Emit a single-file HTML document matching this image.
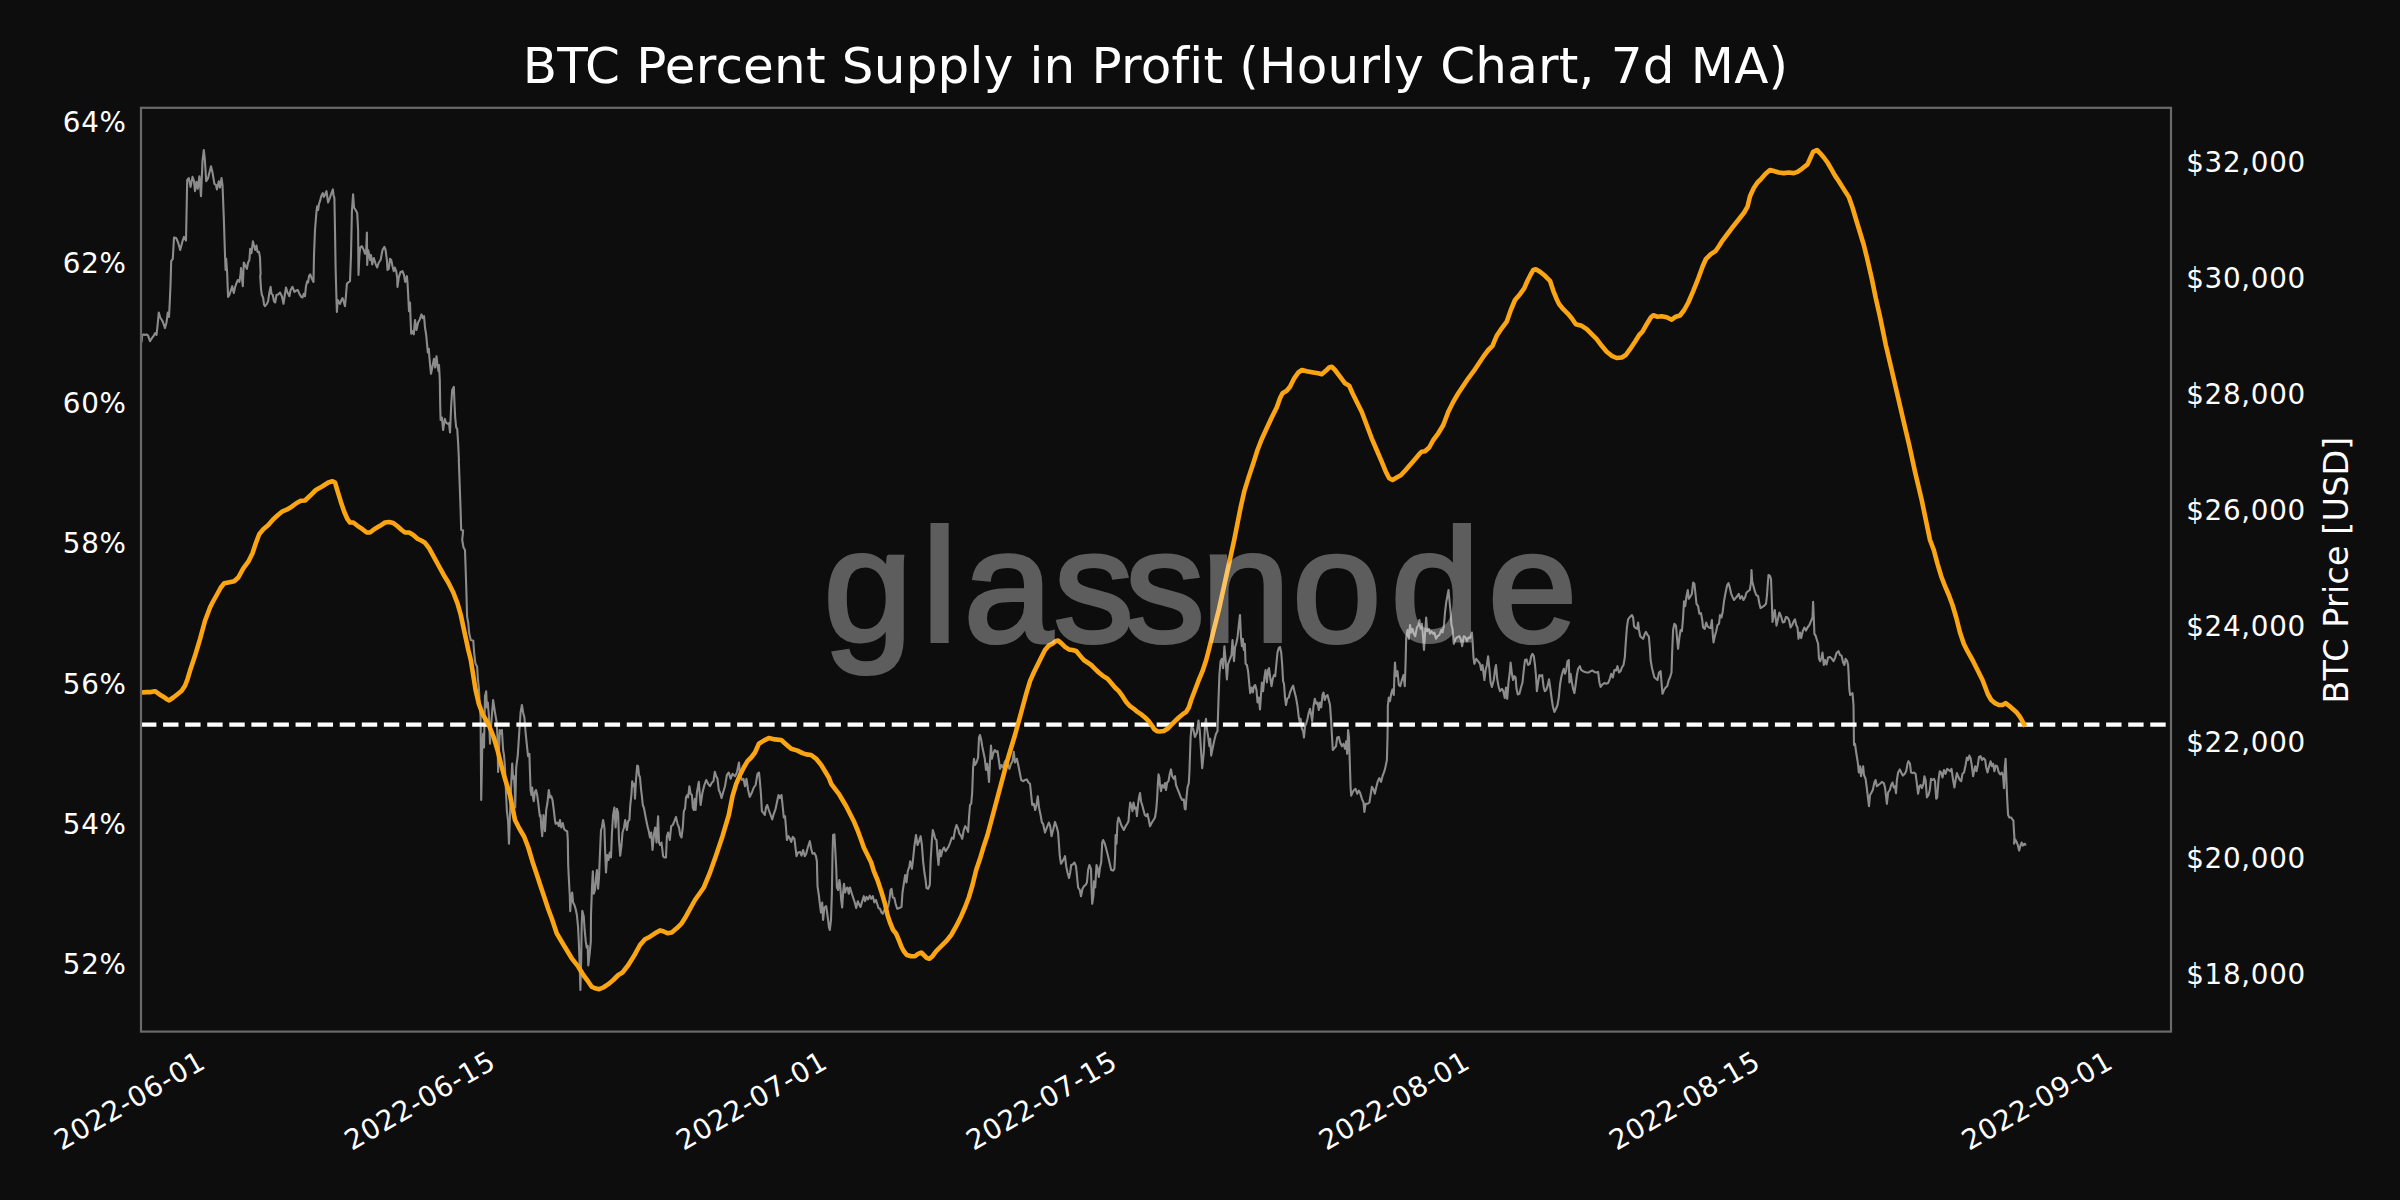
<!DOCTYPE html>
<html><head><meta charset="utf-8"><title>BTC Percent Supply in Profit</title>
<style>
html,body{margin:0;padding:0;background:#0d0d0d;}
svg{display:block}
text{font-family:"DejaVu Sans","Liberation Sans",sans-serif;fill:#fff;font-variant-ligatures:none;font-feature-settings:"liga" 0,"clig" 0}
.t{font-size:27.78px;letter-spacing:0.7px}
</style></head><body>
<svg width="2400" height="1200" viewBox="0 0 2400 1200">
<rect width="2400" height="1200" fill="#0d0d0d"/>
<text x="1155.5" y="83.4" text-anchor="middle" font-size="50" letter-spacing="0.2">BTC Percent Supply in Profit (Hourly Chart, 7d MA)</text>

<text class="t" x="126.6" y="132.3" text-anchor="end">64%</text>
<text class="t" x="126.6" y="272.6" text-anchor="end">62%</text>
<text class="t" x="126.6" y="412.9" text-anchor="end">60%</text>
<text class="t" x="126.6" y="553.2" text-anchor="end">58%</text>
<text class="t" x="126.6" y="693.5" text-anchor="end">56%</text>
<text class="t" x="126.6" y="833.8" text-anchor="end">54%</text>
<text class="t" x="126.6" y="974.1" text-anchor="end">52%</text>
<text class="t" x="2186.2" y="172.3">$32,000</text>
<text class="t" x="2186.2" y="288.3">$30,000</text>
<text class="t" x="2186.2" y="404.3">$28,000</text>
<text class="t" x="2186.2" y="520.3">$26,000</text>
<text class="t" x="2186.2" y="636.3">$24,000</text>
<text class="t" x="2186.2" y="752.3">$22,000</text>
<text class="t" x="2186.2" y="868.3">$20,000</text>
<text class="t" x="2186.2" y="984.3">$18,000</text>
<text class="t" text-anchor="end" transform="translate(207.3,1066.8) rotate(-30)">2022-06-01</text>
<text class="t" text-anchor="end" transform="translate(497.6,1066.8) rotate(-30)">2022-06-15</text>
<text class="t" text-anchor="end" transform="translate(829.3,1066.8) rotate(-30)">2022-07-01</text>
<text class="t" text-anchor="end" transform="translate(1119.3,1066.8) rotate(-30)">2022-07-15</text>
<text class="t" text-anchor="end" transform="translate(1472.0,1066.8) rotate(-30)">2022-08-01</text>
<text class="t" text-anchor="end" transform="translate(1762.3,1066.8) rotate(-30)">2022-08-15</text>
<text class="t" text-anchor="end" transform="translate(2114.8,1066.8) rotate(-30)">2022-09-01</text>
<text font-size="33.3" letter-spacing="0.2" text-anchor="middle" transform="translate(2348,570) rotate(-90)">BTC Price [USD]</text>
<path d="M141.5,342.5 L142.2,335.0 L143.8,334.4 L145.0,335.0 L146.5,334.4 L148.1,335.6 L150.0,341.2 L151.9,338.1 L153.8,335.6 L155.2,333.1 L156.5,335.0 L157.5,326.2 L158.8,312.5 L160.2,317.5 L161.9,320.0 L163.1,322.5 L165.0,328.1 L166.5,322.5 L167.8,312.5 L169.0,316.9 L169.8,301.2 L170.6,282.5 L171.2,261.2 L172.8,258.8 L174.0,237.5 L176.2,238.1 L178.1,242.5 L180.2,250.0 L182.5,241.2 L184.0,236.9 L186.0,240.6 L187.2,180.0 L188.8,178.1 L190.6,186.9 L192.5,176.9 L194.0,181.2 L195.0,191.2 L196.5,181.9 L197.8,188.8 L199.4,176.2 L201.0,196.2 L202.5,161.2 L203.8,150.0 L204.8,158.8 L206.2,181.2 L208.1,178.1 L211.0,166.2 L212.5,172.5 L214.4,183.8 L216.0,185.0 L216.9,189.4 L218.8,181.2 L220.0,187.5 L221.5,178.1 L222.5,185.0 L223.8,217.5 L225.0,255.0 L225.6,270.0 L226.2,258.8 L227.2,273.8 L227.5,282.5 L228.1,296.9 L229.4,295.0 L230.6,291.2 L232.2,286.2 L233.8,293.1 L235.0,287.5 L236.2,283.8 L237.8,280.0 L239.4,281.9 L240.6,273.8 L241.0,268.1 L241.9,277.5 L242.8,286.2 L243.8,262.5 L245.6,266.2 L246.9,268.8 L248.1,262.5 L249.4,260.0 L250.2,248.8 L251.5,253.1 L252.9,241.2 L254.4,246.9 L255.2,250.0 L256.5,245.6 L257.5,251.9 L259.0,251.9 L260.0,257.5 L260.6,273.8 L260.2,276.2 L261.0,288.8 L261.9,295.0 L263.1,297.5 L264.0,304.4 L265.0,306.2 L266.9,303.8 L268.1,301.2 L269.4,292.5 L270.6,286.9 L271.5,293.8 L272.8,295.0 L274.0,301.2 L275.2,302.5 L276.5,295.0 L278.1,294.4 L280.0,292.5 L281.9,296.2 L283.5,303.8 L284.8,295.0 L286.0,287.5 L287.5,292.5 L289.4,296.2 L290.6,290.0 L292.5,286.9 L294.4,291.9 L296.2,290.6 L297.8,290.0 L299.4,293.8 L301.2,296.9 L302.5,297.5 L303.8,293.8 L305.0,296.2 L306.0,286.2 L307.2,281.2 L308.1,282.5 L309.0,276.2 L310.2,274.4 L311.9,278.8 L313.5,281.9 L314.0,255.0 L315.0,230.0 L316.5,211.2 L317.2,206.2 L318.1,210.0 L319.0,203.8 L320.0,201.2 L321.2,196.2 L322.8,193.1 L323.8,196.9 L325.0,195.0 L326.5,191.2 L328.1,202.5 L330.0,197.5 L331.2,193.8 L332.9,189.4 L333.5,195.0 L334.4,198.1 L335.0,230.0 L335.6,267.5 L336.0,282.5 L336.5,300.0 L336.9,311.9 L337.8,300.0 L339.0,302.5 L340.0,303.8 L341.2,300.6 L342.5,298.1 L343.8,301.9 L345.0,306.2 L346.0,295.0 L346.9,283.8 L348.8,281.9 L350.0,281.2 L351.0,255.0 L351.9,211.2 L353.1,194.4 L354.0,207.5 L355.6,210.0 L357.2,213.1 L358.1,230.0 L358.5,273.8 L358.5,275.0 L359.4,255.0 L360.2,247.5 L361.9,246.2 L363.8,250.0 L365.0,253.8 L366.2,250.6 L366.9,232.5 L367.2,265.0 L368.1,250.0 L369.4,255.0 L370.2,260.0 L371.0,255.0 L372.2,264.4 L373.8,258.1 L375.6,263.8 L377.2,267.5 L378.8,262.5 L380.6,260.0 L382.5,250.0 L384.4,246.9 L385.6,250.0 L386.9,260.0 L387.5,270.0 L388.8,268.8 L390.0,258.8 L391.2,260.0 L392.5,266.2 L393.8,271.2 L394.8,267.5 L396.2,271.2 L397.2,277.5 L397.5,286.9 L398.8,277.5 L400.6,271.9 L402.5,271.2 L404.0,275.0 L405.2,281.9 L406.9,276.2 L407.5,282.5 L408.5,301.2 L409.0,311.2 L410.0,302.5 L410.6,320.0 L411.2,333.8 L412.5,331.2 L413.8,334.4 L415.0,320.0 L416.5,330.0 L418.1,322.5 L419.8,319.4 L421.5,314.4 L422.8,318.1 L424.0,316.2 L425.0,327.5 L426.2,335.0 L427.5,348.8 L427.8,352.5 L428.8,348.8 L429.4,357.5 L431.0,373.8 L432.5,366.2 L434.0,358.8 L435.2,367.5 L436.5,356.2 L437.5,365.0 L438.5,371.2 L439.0,365.0 L439.8,380.0 L440.2,405.0 L440.6,420.0 L441.9,417.5 L443.1,430.0 L444.8,418.8 L446.0,422.5 L447.5,423.8 L449.0,423.1 L450.0,432.5 L451.2,405.0 L452.2,390.0 L453.8,386.9 L454.4,401.2 L455.2,417.5 L456.2,427.5 L457.2,428.8 L458.1,442.5 L459.0,461.2 L458.8,460.0 L460.6,510.0 L461.2,530.0 L463.1,530.6 L462.2,540.0 L463.5,547.5 L465.0,550.0 L466.2,585.0 L466.9,610.0 L467.1,616.7 L468.3,623.3 L469.2,633.3 L470.8,640.0 L473.3,640.8 L474.2,653.3 L475.4,663.3 L477.1,666.7 L477.9,679.2 L478.8,687.5 L479.8,705.0 L480.6,717.5 L481.2,800.0 L482.2,750.0 L483.1,733.8 L484.0,747.5 L485.0,696.2 L486.2,691.2 L486.9,707.5 L487.8,702.5 L489.0,717.5 L490.0,743.8 L491.2,723.8 L493.1,700.0 L495.0,712.5 L496.5,721.2 L497.5,736.2 L498.1,771.9 L499.8,730.0 L500.6,733.8 L501.9,730.0 L503.1,750.0 L504.0,755.0 L505.0,767.5 L506.0,792.5 L506.9,811.2 L508.1,821.2 L509.0,843.8 L510.2,808.8 L511.2,783.8 L512.2,763.5 L513.1,778.8 L514.0,776.2 L514.8,790.0 L515.2,807.5 L516.2,767.5 L517.8,755.0 L519.4,730.0 L520.6,712.5 L521.9,705.0 L523.1,712.5 L524.4,717.5 L525.6,732.5 L527.5,751.2 L528.1,756.2 L529.4,753.8 L529.8,767.5 L530.6,790.0 L531.5,795.0 L532.2,787.5 L533.1,797.5 L533.8,801.2 L534.8,792.5 L536.0,790.0 L537.2,795.0 L538.5,805.0 L539.8,816.2 L540.6,815.0 L541.2,826.2 L542.2,836.2 L543.5,815.0 L545.0,831.2 L546.2,810.0 L547.5,802.5 L548.8,790.0 L550.0,797.5 L551.2,796.2 L552.5,800.0 L553.8,810.0 L554.8,818.8 L555.6,823.8 L557.5,822.5 L558.8,826.2 L560.0,820.0 L561.2,827.5 L562.8,823.1 L564.0,828.8 L565.6,830.6 L567.2,831.2 L567.8,840.0 L568.2,865.0 L568.8,877.5 L569.8,896.2 L570.2,911.2 L571.2,896.2 L572.2,892.5 L573.1,902.5 L574.4,905.0 L575.6,908.8 L576.9,915.0 L578.1,927.5 L578.8,941.7 L579.6,962.5 L580.4,990.0 L581.2,958.3 L581.7,925.0 L582.3,910.8 L583.8,916.7 L584.6,929.2 L585.8,941.7 L586.7,947.5 L587.7,945.8 L587.9,954.2 L588.3,965.4 L589.6,954.2 L590.8,941.7 L591.0,915.0 L591.9,890.0 L592.8,871.2 L593.8,893.8 L595.0,890.0 L596.2,876.2 L596.9,870.0 L598.1,888.8 L599.0,877.5 L600.0,852.5 L601.0,830.0 L601.9,827.5 L603.1,820.0 L604.4,827.5 L605.2,852.5 L606.0,872.5 L607.2,855.0 L608.5,860.0 L609.8,852.5 L611.0,857.5 L611.9,833.8 L613.1,815.0 L614.4,807.5 L615.6,827.5 L616.9,808.8 L618.1,812.5 L619.0,840.0 L620.2,855.6 L621.5,845.0 L622.5,832.5 L624.0,827.5 L625.2,820.0 L626.9,830.0 L628.1,821.2 L629.4,820.0 L630.2,806.2 L631.5,793.8 L632.2,781.2 L633.5,786.2 L634.4,783.8 L635.0,798.8 L636.0,780.0 L637.2,765.6 L638.1,766.2 L639.0,775.0 L640.0,777.5 L641.0,788.8 L641.9,796.2 L642.8,805.0 L644.0,808.1 L645.0,813.8 L646.2,820.0 L647.5,826.2 L648.8,831.2 L650.0,837.5 L651.2,832.5 L652.5,850.0 L654.0,833.8 L655.2,827.5 L656.5,842.5 L658.1,816.2 L659.0,842.5 L660.2,845.0 L661.5,842.5 L663.1,856.2 L664.4,857.5 L666.0,857.5 L666.9,836.2 L668.1,832.5 L669.8,840.0 L671.2,826.2 L672.8,825.0 L674.4,821.2 L676.0,816.9 L677.5,823.8 L679.0,827.5 L680.2,835.0 L681.5,837.5 L682.8,827.5 L683.8,811.2 L685.0,808.8 L686.0,797.5 L687.2,795.0 L688.1,797.5 L689.4,786.2 L690.6,793.8 L691.9,795.0 L692.8,807.5 L693.8,810.0 L694.8,798.8 L695.6,810.0 L696.9,792.5 L698.8,781.9 L700.6,805.0 L702.5,792.5 L704.4,785.0 L706.2,780.0 L708.1,783.8 L710.0,786.2 L711.9,782.5 L713.5,781.2 L714.8,771.9 L716.2,776.2 L717.5,778.8 L718.8,790.0 L720.0,792.5 L721.5,798.1 L723.1,792.5 L725.0,786.2 L726.9,775.0 L728.8,772.5 L730.6,778.8 L732.5,773.8 L735.0,776.2 L736.9,772.5 L739.0,762.5 L740.0,775.0 L741.9,780.0 L743.5,778.8 L745.0,786.2 L746.5,778.8 L748.1,790.0 L749.8,796.9 L751.9,792.5 L753.8,787.5 L755.6,785.0 L757.5,773.8 L759.0,772.5 L759.8,780.0 L761.0,795.0 L761.9,811.2 L763.1,812.5 L764.8,815.0 L766.0,807.5 L767.2,805.0 L768.8,810.0 L770.6,815.0 L772.2,819.4 L773.8,813.8 L775.6,808.8 L776.9,802.5 L778.5,795.0 L780.0,798.1 L781.5,795.0 L782.8,807.5 L783.8,817.5 L785.0,816.2 L786.0,827.5 L786.9,840.0 L788.5,836.2 L790.0,838.8 L791.2,841.9 L792.8,836.9 L794.4,838.8 L795.2,845.0 L796.5,856.2 L798.1,852.5 L800.0,851.9 L801.5,855.6 L803.1,850.0 L804.8,856.2 L806.2,853.8 L807.8,847.5 L809.8,841.2 L811.2,848.8 L812.5,853.8 L814.4,853.1 L816.0,856.2 L816.9,861.2 L817.5,886.2 L818.8,895.0 L820.0,905.0 L821.0,912.5 L822.2,902.5 L823.1,920.0 L824.4,907.5 L826.2,906.2 L827.8,917.5 L829.0,927.5 L829.8,930.0 L831.0,920.0 L831.9,892.5 L832.5,855.0 L833.1,835.0 L834.4,834.4 L835.2,848.8 L836.2,867.5 L836.9,887.5 L838.1,890.0 L839.4,880.0 L840.2,885.0 L841.2,900.0 L842.2,907.5 L843.1,892.5 L844.0,883.8 L845.2,892.5 L846.2,888.8 L847.5,887.5 L848.8,893.8 L850.0,887.5 L851.5,892.5 L853.1,897.5 L854.8,902.5 L856.2,908.1 L857.8,901.2 L859.4,905.0 L860.6,906.9 L862.2,901.2 L863.8,896.2 L865.0,901.2 L866.5,896.9 L868.1,899.4 L869.8,895.6 L871.2,898.8 L872.8,896.2 L874.4,902.5 L876.0,900.0 L877.2,903.8 L878.5,908.1 L880.0,908.8 L881.5,912.5 L882.8,913.8 L884.4,910.0 L886.2,908.8 L888.1,906.9 L889.4,900.0 L890.6,890.0 L891.5,888.8 L892.8,897.5 L894.4,898.1 L895.6,903.8 L897.2,908.8 L899.4,908.1 L901.5,906.9 L902.5,892.5 L904.0,882.5 L905.2,875.0 L906.5,882.5 L907.8,871.2 L909.4,866.2 L910.2,861.2 L911.9,868.8 L913.1,858.8 L914.4,846.2 L916.0,835.0 L917.5,845.0 L918.8,841.9 L920.6,836.2 L921.9,845.0 L923.1,861.2 L924.4,872.5 L925.6,880.0 L926.5,888.1 L928.1,888.8 L929.8,885.0 L930.6,861.2 L931.9,840.0 L932.8,830.0 L934.0,833.8 L935.2,838.8 L936.5,840.0 L937.5,855.0 L938.5,865.0 L939.8,850.0 L941.0,856.2 L942.5,850.0 L944.0,847.5 L945.6,851.2 L947.2,848.8 L948.8,846.2 L950.2,842.5 L951.9,837.5 L953.5,838.8 L955.0,830.0 L956.5,825.0 L958.1,828.8 L959.4,833.8 L961.0,835.6 L962.2,838.8 L963.8,830.0 L965.2,826.2 L966.9,828.8 L968.1,831.9 L969.0,817.5 L970.0,805.0 L971.2,803.8 L972.2,792.5 L973.1,767.5 L974.0,758.8 L975.0,765.0 L976.5,762.5 L978.1,757.5 L979.0,737.5 L980.0,735.0 L981.2,740.0 L982.2,746.2 L983.5,752.5 L984.8,758.8 L986.0,770.0 L987.2,763.8 L988.1,771.2 L989.0,781.9 L990.0,761.2 L991.0,745.6 L991.9,758.8 L993.1,753.8 L994.8,750.0 L996.2,751.9 L997.5,751.2 L998.8,760.0 L1000.0,768.8 L1001.5,765.0 L1003.1,767.5 L1005.0,761.2 L1006.5,760.0 L1008.1,765.0 L1009.4,768.8 L1011.0,763.8 L1012.5,761.2 L1013.8,751.9 L1015.0,762.5 L1016.9,758.8 L1018.5,766.2 L1020.0,773.8 L1021.2,780.0 L1023.1,781.2 L1025.0,780.0 L1026.9,779.4 L1028.5,782.5 L1030.0,783.8 L1031.2,795.0 L1032.2,805.0 L1033.8,803.8 L1035.2,810.0 L1036.5,805.0 L1037.8,796.2 L1039.0,807.5 L1040.6,815.0 L1041.9,822.5 L1043.1,823.8 L1045.0,832.5 L1046.9,827.5 L1048.8,822.5 L1050.2,826.2 L1051.5,836.2 L1053.1,830.0 L1055.0,821.9 L1056.9,827.5 L1058.1,832.5 L1059.0,845.0 L1059.8,856.2 L1061.0,863.8 L1062.5,861.2 L1064.0,858.8 L1065.0,856.2 L1066.2,866.2 L1067.5,872.5 L1069.0,878.1 L1070.2,872.5 L1071.2,865.0 L1072.8,864.4 L1074.4,862.5 L1076.0,866.2 L1076.9,875.0 L1078.1,887.5 L1079.8,890.0 L1081.0,896.2 L1082.5,888.8 L1084.0,886.2 L1085.6,885.0 L1086.9,882.5 L1088.1,870.0 L1089.4,865.0 L1091.0,868.8 L1091.5,887.5 L1092.2,903.8 L1093.5,895.0 L1094.0,881.2 L1095.2,887.5 L1096.5,865.0 L1097.8,868.8 L1098.8,876.9 L1100.0,867.5 L1101.2,862.5 L1102.2,842.5 L1103.1,840.0 L1104.8,843.8 L1106.2,848.8 L1108.1,856.2 L1109.8,863.8 L1111.2,870.0 L1113.1,870.6 L1114.4,868.8 L1115.2,853.8 L1115.6,835.0 L1116.5,843.8 L1117.5,822.5 L1118.5,817.5 L1120.0,821.2 L1121.2,825.0 L1122.5,827.5 L1123.8,830.0 L1125.6,826.2 L1127.2,823.8 L1128.5,821.2 L1129.4,810.0 L1130.2,802.5 L1131.5,806.2 L1132.5,811.2 L1133.5,802.5 L1134.8,808.8 L1136.0,807.5 L1136.9,816.2 L1138.1,803.8 L1139.0,797.5 L1140.0,793.1 L1141.0,801.2 L1142.2,805.0 L1143.5,810.0 L1144.8,815.0 L1146.2,816.2 L1147.5,813.8 L1148.8,820.0 L1150.0,826.2 L1151.9,822.5 L1153.5,820.0 L1155.0,817.5 L1156.2,810.0 L1157.2,797.5 L1157.8,785.0 L1158.5,774.4 L1159.4,777.5 L1160.0,785.0 L1161.0,791.2 L1162.2,785.0 L1163.8,787.5 L1165.0,783.1 L1166.0,790.0 L1167.2,782.5 L1168.5,781.2 L1169.8,773.8 L1171.0,769.4 L1172.2,776.2 L1173.8,778.8 L1175.0,776.2 L1176.0,785.0 L1177.5,788.8 L1179.0,792.5 L1180.6,796.9 L1182.2,800.0 L1183.8,799.4 L1184.8,808.8 L1185.6,809.4 L1186.5,797.5 L1187.5,787.5 L1188.8,783.1 L1189.4,772.5 L1190.6,737.5 L1191.5,726.9 L1193.1,728.8 L1195.0,736.9 L1196.9,732.5 L1198.5,720.6 L1199.8,731.2 L1201.0,750.0 L1202.2,768.1 L1203.8,752.5 L1205.0,725.0 L1206.0,718.8 L1206.9,728.8 L1208.1,736.2 L1209.4,746.2 L1210.2,738.8 L1211.2,755.6 L1212.8,747.5 L1214.4,740.0 L1216.0,733.8 L1217.5,731.2 L1218.1,712.5 L1218.5,700.0 L1219.4,675.0 L1220.6,661.2 L1221.9,658.8 L1223.1,668.1 L1224.4,646.2 L1225.6,660.0 L1226.9,679.4 L1228.1,663.8 L1230.0,658.8 L1231.5,655.0 L1232.5,640.0 L1234.0,661.2 L1235.0,647.5 L1236.2,643.8 L1237.5,637.5 L1238.8,625.0 L1240.0,615.0 L1241.0,637.5 L1241.9,646.2 L1242.8,638.8 L1243.8,650.0 L1244.8,643.8 L1245.6,663.8 L1246.9,665.0 L1248.1,671.2 L1249.4,685.0 L1250.2,693.1 L1251.5,687.5 L1252.8,692.5 L1254.0,686.2 L1255.2,685.0 L1256.5,690.0 L1257.5,702.5 L1258.8,697.5 L1260.0,709.4 L1261.0,695.0 L1261.9,682.5 L1263.1,691.2 L1264.4,677.5 L1265.6,670.0 L1266.9,682.5 L1268.1,670.0 L1269.0,668.1 L1270.2,677.5 L1271.5,686.2 L1272.8,678.8 L1274.0,675.0 L1275.2,676.2 L1276.5,662.5 L1277.5,652.5 L1278.8,648.1 L1280.0,646.9 L1281.2,652.5 L1282.2,665.0 L1283.1,681.2 L1284.0,683.8 L1285.0,697.5 L1286.0,705.0 L1287.2,698.8 L1288.8,697.5 L1290.0,692.5 L1291.5,688.8 L1293.1,685.6 L1294.4,691.2 L1296.0,697.5 L1297.5,706.2 L1298.8,717.5 L1299.8,722.5 L1300.6,718.8 L1301.9,728.8 L1303.1,731.2 L1304.0,737.5 L1305.0,726.2 L1306.2,723.8 L1307.5,718.8 L1308.8,712.5 L1310.0,708.8 L1311.2,715.0 L1312.2,721.2 L1313.5,706.2 L1314.8,698.8 L1316.2,703.8 L1317.5,702.5 L1318.8,710.0 L1320.0,702.5 L1321.2,707.5 L1322.5,695.0 L1323.5,692.5 L1324.8,700.0 L1326.0,696.2 L1327.5,695.0 L1328.8,700.0 L1330.0,705.0 L1331.0,718.8 L1331.9,735.0 L1332.8,750.0 L1334.4,748.1 L1336.0,746.2 L1337.2,737.5 L1338.8,736.9 L1340.2,742.5 L1341.9,746.2 L1343.5,743.8 L1345.0,748.8 L1346.2,741.2 L1347.2,753.8 L1348.1,730.0 L1349.0,737.5 L1349.8,762.5 L1350.6,787.5 L1351.2,795.6 L1352.5,792.5 L1354.0,790.0 L1355.6,788.8 L1357.2,793.8 L1358.8,790.6 L1360.2,793.1 L1361.9,798.8 L1363.5,802.5 L1364.4,811.9 L1365.6,803.8 L1367.5,803.8 L1369.4,802.5 L1370.6,795.0 L1371.9,786.9 L1373.5,789.4 L1374.8,793.8 L1376.2,787.5 L1377.8,781.2 L1379.4,778.1 L1381.0,781.9 L1382.5,776.2 L1384.4,771.2 L1385.6,766.2 L1386.9,760.0 L1387.5,737.5 L1387.8,718.8 L1387.8,706.2 L1388.8,697.5 L1390.0,701.2 L1391.2,693.8 L1392.5,689.4 L1393.8,695.0 L1394.4,675.0 L1395.0,662.5 L1396.0,676.2 L1397.5,671.2 L1398.8,685.0 L1400.2,686.2 L1401.9,680.0 L1403.5,675.0 L1404.8,686.2 L1405.6,662.5 L1406.2,637.5 L1407.5,630.0 L1408.8,638.8 L1410.0,625.0 L1411.2,632.5 L1412.5,628.8 L1413.8,633.8 L1415.2,636.2 L1416.9,627.5 L1418.5,625.0 L1419.4,620.0 L1420.6,628.8 L1421.9,623.8 L1423.1,637.5 L1424.0,650.0 L1425.2,631.2 L1426.2,617.5 L1427.2,631.2 L1428.8,628.8 L1430.0,633.8 L1431.5,631.2 L1433.1,633.8 L1434.4,632.5 L1436.0,638.8 L1437.5,636.2 L1439.4,635.0 L1441.2,630.0 L1442.5,632.5 L1444.0,625.0 L1445.0,612.5 L1446.2,602.5 L1448.5,590.0 L1450.6,612.5 L1451.5,625.0 L1452.5,628.8 L1453.8,643.8 L1455.6,638.8 L1457.5,636.9 L1459.4,636.2 L1461.0,640.0 L1462.2,646.2 L1463.8,636.2 L1465.6,637.5 L1466.9,641.2 L1468.5,637.5 L1470.0,638.1 L1471.9,632.5 L1471.9,632.5 L1472.5,640.0 L1473.5,657.5 L1474.4,663.8 L1476.2,658.8 L1478.1,661.2 L1480.0,663.8 L1481.2,670.0 L1482.5,665.0 L1484.4,680.0 L1485.6,670.0 L1486.9,665.0 L1488.1,656.2 L1489.4,668.8 L1490.6,682.5 L1491.9,686.9 L1493.8,680.0 L1495.0,670.0 L1496.0,665.0 L1497.2,678.8 L1498.5,686.2 L1500.0,691.2 L1501.9,688.8 L1503.1,690.6 L1504.8,698.1 L1506.0,687.5 L1507.2,698.8 L1508.5,682.5 L1509.8,672.5 L1510.6,662.5 L1511.9,673.8 L1513.1,680.0 L1514.4,676.2 L1515.6,677.5 L1516.5,688.8 L1517.8,694.4 L1519.4,693.8 L1521.0,687.5 L1522.5,682.5 L1523.8,670.0 L1525.0,660.0 L1526.5,659.4 L1528.1,665.0 L1529.8,663.8 L1531.2,656.2 L1532.5,653.8 L1533.8,656.2 L1535.0,665.0 L1536.0,676.2 L1536.9,691.2 L1538.1,682.5 L1539.4,675.0 L1541.0,676.2 L1542.2,675.0 L1543.5,686.2 L1544.8,691.2 L1546.2,690.0 L1547.5,686.2 L1549.0,679.4 L1550.2,687.5 L1551.5,697.5 L1552.8,706.2 L1554.4,711.9 L1556.0,708.8 L1557.5,705.0 L1558.8,697.5 L1560.0,685.0 L1561.2,677.5 L1562.5,672.5 L1563.8,668.8 L1565.0,673.8 L1566.2,670.0 L1567.5,661.2 L1568.8,660.0 L1569.4,682.5 L1570.6,673.8 L1571.9,682.5 L1573.1,688.8 L1574.4,693.1 L1575.6,685.0 L1576.9,675.0 L1578.1,668.8 L1579.8,666.2 L1581.2,670.0 L1583.1,671.2 L1585.0,671.9 L1586.9,672.5 L1588.8,672.5 L1590.6,671.2 L1592.5,670.6 L1594.4,671.9 L1596.2,672.5 L1598.1,671.9 L1599.4,682.5 L1600.6,686.9 L1602.5,684.4 L1604.4,683.1 L1606.2,683.8 L1608.1,683.1 L1609.8,678.8 L1611.2,673.8 L1612.8,677.5 L1614.4,670.0 L1616.0,670.6 L1617.5,666.2 L1619.0,672.5 L1620.6,671.2 L1621.9,667.5 L1623.5,665.0 L1624.8,657.5 L1625.6,645.0 L1626.9,627.5 L1628.1,619.4 L1630.0,616.9 L1631.9,615.0 L1633.1,617.5 L1634.0,626.2 L1635.6,628.1 L1637.2,628.8 L1638.1,622.5 L1639.0,630.0 L1640.2,636.2 L1641.5,637.5 L1643.1,638.8 L1644.8,633.8 L1646.0,631.9 L1647.5,635.0 L1648.8,636.2 L1649.8,647.5 L1650.6,660.0 L1651.9,667.5 L1653.1,672.5 L1654.4,677.5 L1656.0,678.8 L1657.5,680.0 L1659.0,672.5 L1660.6,671.2 L1661.5,682.5 L1662.5,693.8 L1664.0,690.0 L1665.6,687.5 L1667.2,686.2 L1668.8,680.0 L1670.0,677.5 L1671.5,672.5 L1672.2,651.2 L1673.1,630.0 L1674.4,623.8 L1676.0,625.6 L1677.2,640.0 L1678.1,648.8 L1679.4,637.5 L1680.6,630.0 L1681.9,631.2 L1683.1,617.5 L1684.0,601.2 L1685.2,606.2 L1686.5,596.2 L1687.8,590.0 L1688.8,598.8 L1690.2,596.9 L1691.9,593.8 L1693.1,582.5 L1694.4,583.8 L1695.6,595.0 L1696.5,603.8 L1698.1,606.2 L1699.4,613.8 L1701.0,613.1 L1702.2,620.0 L1703.1,627.5 L1704.8,628.8 L1706.2,622.5 L1707.5,626.2 L1709.0,627.5 L1710.6,628.1 L1711.9,620.0 L1712.8,635.0 L1713.5,642.5 L1714.8,636.2 L1716.2,631.2 L1717.5,625.0 L1719.0,623.8 L1720.0,615.0 L1721.5,617.5 L1722.8,611.2 L1724.0,601.2 L1725.6,592.5 L1727.2,585.0 L1728.5,583.1 L1729.8,587.5 L1731.2,593.8 L1732.5,596.9 L1734.0,600.0 L1735.6,598.1 L1737.2,596.2 L1738.8,593.8 L1740.2,598.8 L1741.9,596.2 L1743.5,600.0 L1745.0,597.5 L1746.5,592.5 L1748.1,591.2 L1749.8,590.0 L1751.0,582.5 L1751.5,570.0 L1752.2,581.2 L1753.5,586.2 L1754.8,591.2 L1756.2,595.0 L1758.1,596.2 L1759.4,603.8 L1760.6,608.1 L1762.5,606.9 L1764.4,605.6 L1766.0,603.8 L1766.9,596.2 L1767.8,583.8 L1768.5,575.0 L1769.8,575.6 L1771.0,578.8 L1771.9,602.5 L1772.5,621.9 L1773.8,615.0 L1774.8,610.0 L1775.6,617.5 L1776.5,625.6 L1777.8,620.0 L1779.4,612.5 L1781.0,616.2 L1782.8,622.5 L1784.4,621.9 L1786.0,616.9 L1787.5,617.5 L1789.0,620.0 L1790.6,627.5 L1792.2,625.0 L1793.8,621.2 L1795.0,619.4 L1796.2,625.0 L1797.5,627.5 L1798.5,638.8 L1800.0,632.5 L1801.2,638.1 L1802.8,631.2 L1804.4,627.5 L1806.0,630.6 L1807.5,627.5 L1809.4,625.0 L1811.0,621.2 L1812.5,617.5 L1813.1,601.9 L1813.8,617.5 L1814.4,633.8 L1815.6,635.6 L1816.9,640.0 L1818.1,643.8 L1819.0,658.8 L1820.2,661.2 L1821.5,657.5 L1822.5,652.5 L1823.8,665.0 L1825.0,660.0 L1826.5,664.4 L1828.1,657.5 L1830.0,656.9 L1831.9,658.8 L1833.5,661.2 L1835.0,658.1 L1836.5,653.1 L1838.5,651.2 L1840.0,655.0 L1841.5,655.6 L1843.1,662.5 L1844.4,665.0 L1845.6,658.8 L1847.2,661.2 L1848.1,665.0 L1848.8,677.5 L1848.8,680.0 L1849.4,690.0 L1850.2,695.0 L1852.5,693.1 L1853.5,705.0 L1853.8,730.0 L1854.0,745.0 L1855.0,743.8 L1856.2,752.5 L1857.8,762.5 L1858.8,772.5 L1860.0,766.2 L1861.0,776.2 L1862.2,770.0 L1863.1,766.2 L1864.0,775.0 L1865.6,778.8 L1866.9,788.8 L1868.1,798.8 L1869.0,806.2 L1870.0,795.0 L1871.2,793.1 L1872.8,790.0 L1874.4,782.5 L1875.6,780.0 L1876.9,786.2 L1878.5,785.0 L1880.0,783.8 L1881.9,781.9 L1883.8,783.1 L1885.0,787.5 L1886.0,796.2 L1886.9,803.8 L1888.1,792.5 L1889.8,790.0 L1891.2,785.0 L1892.5,782.5 L1893.8,787.5 L1895.0,786.2 L1896.0,793.1 L1896.9,780.0 L1898.1,772.5 L1899.8,769.4 L1901.2,772.5 L1902.8,775.6 L1904.8,773.8 L1906.2,771.2 L1907.5,763.8 L1908.5,761.2 L1910.0,763.8 L1911.0,772.5 L1912.5,773.1 L1914.0,772.5 L1915.6,773.8 L1916.9,783.8 L1918.1,793.8 L1919.4,786.2 L1920.6,785.0 L1921.9,788.1 L1923.5,783.8 L1924.4,776.2 L1925.6,780.0 L1926.9,797.5 L1928.5,795.0 L1929.8,790.0 L1931.0,778.8 L1932.5,780.0 L1934.0,778.8 L1935.0,781.2 L1936.2,798.8 L1937.2,797.5 L1938.5,780.0 L1939.8,771.2 L1941.2,772.5 L1942.5,777.5 L1944.0,770.0 L1945.6,773.8 L1947.2,768.8 L1948.8,770.0 L1950.2,771.2 L1951.5,768.8 L1953.1,780.0 L1954.4,787.5 L1955.6,780.0 L1956.9,773.1 L1958.1,776.2 L1959.8,780.0 L1961.2,781.2 L1962.5,773.8 L1964.0,772.5 L1965.6,765.0 L1966.9,757.5 L1968.1,760.0 L1969.4,755.6 L1970.6,758.1 L1971.9,766.2 L1973.1,776.2 L1974.4,770.0 L1975.2,766.2 L1976.5,771.2 L1977.8,765.0 L1979.0,756.9 L1980.6,756.2 L1981.9,760.0 L1983.5,758.1 L1985.2,760.0 L1986.2,767.5 L1987.5,772.5 L1988.8,767.5 L1990.6,761.2 L1991.9,766.2 L1993.1,763.8 L1994.4,771.2 L1995.6,765.6 L1997.2,766.2 L1998.8,772.5 L2000.2,774.4 L2001.9,772.5 L2003.1,776.2 L2004.0,788.1 L2004.8,767.5 L2005.6,758.8 L2006.2,773.8 L2006.9,792.5 L2007.5,805.0 L2008.1,815.0 L2009.4,817.5 L2011.2,817.5 L2012.8,820.0 L2013.4,820.6 L2013.9,830.0 L2014.4,837.5 L2014.1,843.8 L2015.3,839.4 L2016.6,841.9 L2017.8,845.0 L2019.1,850.6 L2020.3,846.2 L2021.6,842.5 L2022.8,845.6 L2024.1,843.8 L2025.0,843.8 L2025.6,845.6" fill="none" stroke="#8c8c8c" stroke-width="2.1" stroke-linejoin="round"/>
<line x1="141.0" x2="2171.0" y1="724.7" y2="724.7" stroke="#fff" stroke-width="4.2" stroke-dasharray="15.4 6.68"/>
<path d="M141.2,692.5 L146.7,692.1 L150.8,692.1 L155.0,691.2 L159.2,694.2 L163.3,696.7 L166.7,699.2 L169.2,700.4 L173.3,697.5 L177.5,694.2 L181.7,690.8 L185.0,685.8 L187.5,679.2 L190.0,670.8 L192.5,663.3 L195.0,655.8 L197.5,647.5 L200.0,639.2 L202.5,630.0 L205.0,620.8 L207.5,614.2 L210.0,607.5 L212.5,602.5 L216.7,595.0 L220.8,587.5 L224.2,583.3 L228.3,582.5 L234.2,581.3 L238.3,577.5 L243.3,568.3 L248.3,561.7 L252.5,553.3 L255.8,543.3 L259.2,534.2 L263.3,529.2 L268.3,525.0 L273.3,519.2 L278.3,514.7 L282.5,511.3 L286.7,509.7 L291.7,506.7 L296.7,503.0 L300.8,500.8 L305.0,500.5 L310.0,495.8 L315.8,490.0 L321.7,486.7 L328.3,482.5 L332.5,481.2 L335.0,482.5 L337.5,490.8 L340.8,501.7 L344.2,511.7 L347.5,519.2 L350.0,522.5 L353.3,522.5 L357.5,525.8 L362.5,529.2 L366.7,532.5 L370.0,532.5 L374.2,529.2 L380.0,525.8 L385.0,522.5 L389.2,522.0 L393.3,523.0 L397.5,526.3 L401.7,530.0 L405.0,532.5 L409.2,532.5 L413.3,535.0 L417.5,538.7 L421.7,540.8 L425.0,542.8 L429.2,548.3 L433.3,555.8 L438.3,565.0 L443.3,574.2 L448.3,582.5 L453.3,592.5 L457.5,603.3 L460.8,615.0 L463.3,626.7 L465.8,638.3 L468.3,650.0 L470.8,660.0 L475.6,690.0 L478.8,703.8 L482.5,713.8 L488.8,725.0 L493.8,737.5 L497.5,750.0 L501.2,765.0 L505.0,778.8 L510.0,795.0 L515.0,820.0 L519.2,828.3 L524.2,836.7 L528.3,847.5 L532.5,861.7 L536.7,874.2 L540.8,886.7 L545.0,899.2 L548.3,909.2 L551.7,918.3 L556.7,933.3 L561.7,941.7 L566.7,950.0 L571.7,958.3 L578.3,966.7 L583.3,975.0 L588.3,981.7 L591.7,986.7 L595.0,988.3 L599.2,989.2 L603.3,987.5 L608.3,984.2 L613.3,980.0 L618.3,975.0 L622.5,972.5 L628.3,965.0 L635.0,954.2 L640.0,945.0 L645.0,939.2 L650.0,936.7 L655.0,933.3 L660.0,930.4 L663.3,931.2 L667.5,933.3 L671.7,932.5 L676.7,928.3 L681.7,923.3 L685.8,916.7 L690.8,907.5 L695.0,900.0 L703.8,887.5 L710.0,872.5 L716.2,855.0 L722.5,836.2 L728.8,815.0 L732.5,796.2 L736.2,783.8 L740.0,775.0 L743.8,767.5 L747.5,761.2 L751.2,757.5 L755.0,752.5 L758.8,743.8 L763.8,740.6 L768.8,738.1 L775.0,739.4 L781.2,740.0 L786.2,744.4 L791.2,748.8 L797.5,750.6 L802.5,753.1 L806.2,754.4 L811.2,755.0 L816.2,758.8 L821.2,765.0 L825.0,771.2 L828.8,777.5 L831.2,783.8 L835.0,788.8 L838.8,793.8 L842.5,800.0 L846.2,806.2 L850.0,813.8 L853.8,821.2 L857.5,830.0 L861.2,840.0 L863.8,847.5 L867.5,855.0 L871.2,862.5 L873.8,871.2 L877.5,880.0 L881.2,891.2 L885.0,903.8 L887.5,915.0 L890.0,922.5 L893.1,930.0 L896.2,933.8 L898.8,940.0 L901.2,946.2 L903.8,951.2 L906.9,955.0 L911.2,956.2 L915.0,956.2 L918.1,953.8 L921.2,952.5 L923.8,955.0 L926.9,958.1 L929.4,958.8 L932.5,956.2 L936.2,951.2 L941.2,946.2 L946.2,941.2 L951.2,935.0 L956.2,926.2 L961.2,916.2 L965.0,907.5 L968.8,897.5 L972.5,885.0 L976.2,870.0 L980.0,858.8 L983.8,846.2 L987.5,835.0 L1007.5,760.0 L1011.2,747.5 L1015.0,735.0 L1018.8,721.2 L1022.5,707.5 L1026.2,693.8 L1030.0,681.2 L1033.8,672.5 L1037.5,665.0 L1041.2,657.5 L1045.0,650.0 L1048.8,645.6 L1052.5,643.8 L1055.6,641.2 L1058.1,640.6 L1061.2,643.1 L1065.0,646.9 L1068.8,649.4 L1072.5,650.0 L1076.2,651.0 L1080.0,655.6 L1083.8,660.0 L1087.5,662.5 L1091.2,665.0 L1095.0,668.8 L1098.8,672.5 L1102.5,675.6 L1107.5,678.8 L1111.2,683.1 L1115.0,687.5 L1118.8,691.2 L1122.5,696.2 L1126.2,701.9 L1130.0,706.2 L1133.8,708.8 L1137.5,711.9 L1141.2,714.4 L1145.0,717.5 L1148.8,721.2 L1151.9,725.6 L1154.4,729.4 L1156.9,731.2 L1160.0,731.5 L1163.8,731.0 L1167.5,728.8 L1171.2,725.0 L1175.0,721.2 L1178.8,717.5 L1182.5,714.4 L1186.2,711.9 L1188.8,707.5 L1191.2,700.0 L1195.0,690.0 L1198.8,680.0 L1202.5,671.2 L1206.2,660.0 L1208.8,650.0 L1211.9,637.5 L1215.0,625.0 L1218.8,610.0 L1234.2,540.0 L1237.5,523.3 L1240.8,506.7 L1244.2,491.7 L1248.3,478.3 L1253.3,463.3 L1257.5,450.0 L1261.7,439.2 L1266.7,428.3 L1271.7,417.5 L1276.7,407.5 L1280.0,398.3 L1282.5,393.3 L1286.7,390.8 L1290.0,386.7 L1294.2,378.3 L1298.3,372.5 L1302.0,370.0 L1306.7,371.3 L1313.3,372.5 L1318.3,373.3 L1321.7,374.2 L1325.8,370.8 L1329.2,367.5 L1331.7,366.7 L1335.0,370.0 L1340.0,376.7 L1345.0,383.3 L1349.2,385.8 L1352.5,393.3 L1356.7,401.7 L1361.7,411.7 L1366.7,425.0 L1371.7,438.3 L1376.7,450.0 L1381.7,461.7 L1385.8,471.7 L1389.2,478.3 L1392.5,480.0 L1396.7,477.5 L1400.8,475.3 L1405.0,470.8 L1410.0,465.0 L1415.0,459.2 L1419.2,454.2 L1421.7,451.7 L1425.0,451.3 L1429.2,447.5 L1433.3,440.0 L1438.3,433.3 L1443.3,425.0 L1448.3,411.7 L1453.3,401.7 L1458.3,393.3 L1463.3,385.8 L1468.3,378.3 L1473.3,371.7 L1478.3,364.2 L1483.3,356.7 L1488.3,350.0 L1492.5,345.8 L1494.2,341.7 L1496.7,335.8 L1501.7,328.3 L1506.7,321.7 L1510.8,310.0 L1515.0,300.0 L1520.0,294.2 L1524.2,288.3 L1527.5,280.8 L1530.8,274.2 L1533.3,270.0 L1535.8,269.2 L1540.0,271.7 L1545.0,275.8 L1550.0,280.8 L1553.3,290.8 L1556.7,299.2 L1559.2,304.2 L1563.3,309.2 L1567.5,313.3 L1571.7,318.3 L1575.8,324.2 L1581.7,325.8 L1586.7,329.2 L1591.7,334.2 L1596.7,339.2 L1601.7,345.8 L1606.7,351.7 L1611.7,355.8 L1616.7,358.0 L1621.7,357.5 L1625.8,355.0 L1630.0,349.2 L1635.0,341.7 L1639.2,335.0 L1642.5,331.7 L1646.7,324.2 L1650.8,317.5 L1653.3,315.3 L1657.5,316.7 L1661.7,316.3 L1666.7,317.2 L1671.7,319.7 L1675.8,316.7 L1680.0,315.5 L1684.2,310.0 L1688.3,302.5 L1693.3,290.8 L1698.3,278.3 L1702.5,266.7 L1705.8,259.2 L1710.8,254.2 L1715.8,250.8 L1719.2,245.8 L1721.7,241.7 L1726.7,235.0 L1731.7,228.3 L1738.3,220.0 L1744.2,212.5 L1747.5,206.7 L1750.0,196.2 L1753.8,188.1 L1757.5,182.5 L1761.2,178.8 L1765.6,173.8 L1770.0,170.0 L1773.8,171.0 L1778.8,172.5 L1783.8,173.1 L1788.8,172.5 L1793.8,173.1 L1797.5,171.9 L1801.9,168.8 L1807.5,164.4 L1810.0,158.8 L1813.1,151.9 L1816.9,150.0 L1820.0,153.1 L1823.8,157.5 L1827.5,162.5 L1831.2,168.8 L1835.0,175.6 L1838.8,181.2 L1843.1,188.1 L1848.8,196.9 L1852.5,207.5 L1856.2,220.0 L1860.0,232.5 L1863.8,245.0 L1866.9,257.5 L1871.7,278.3 L1875.8,298.3 L1880.0,316.7 L1885.8,345.0 L1891.7,370.0 L1897.5,395.0 L1903.3,420.0 L1909.2,445.0 L1915.0,471.7 L1921.7,500.0 L1930.0,540.0 L1933.8,550.0 L1937.5,563.8 L1941.2,576.2 L1945.0,586.2 L1948.8,595.0 L1952.5,605.0 L1956.2,617.5 L1960.0,632.5 L1963.8,643.8 L1967.5,651.2 L1972.5,660.0 L1977.5,670.0 L1982.5,680.0 L1987.8,694.0 L1991.2,700.0 L1995.0,703.1 L1998.8,705.0 L2002.5,705.0 L2005.6,703.1 L2008.8,705.6 L2012.5,708.8 L2016.2,711.9 L2020.0,716.9 L2023.1,722.5 L2025.2,726.5" fill="none" stroke="#fca512" stroke-width="4.6" stroke-linejoin="round" stroke-linecap="butt"/>
<rect x="141.0" y="107.8" width="2030.0" height="923.8" fill="none" stroke="#6a6a6a" stroke-width="2.2"/>
<g opacity="0.33"><text x="823.5 921.8 963.8 1053.8 1124.8 1201.3 1292.3 1390.8 1488.0" y="640.7" font-size="160" style="font-family:'Liberation Sans',sans-serif;fill:#fff;stroke:#fff;stroke-width:4px">glassnode</text></g>
</svg></body></html>
